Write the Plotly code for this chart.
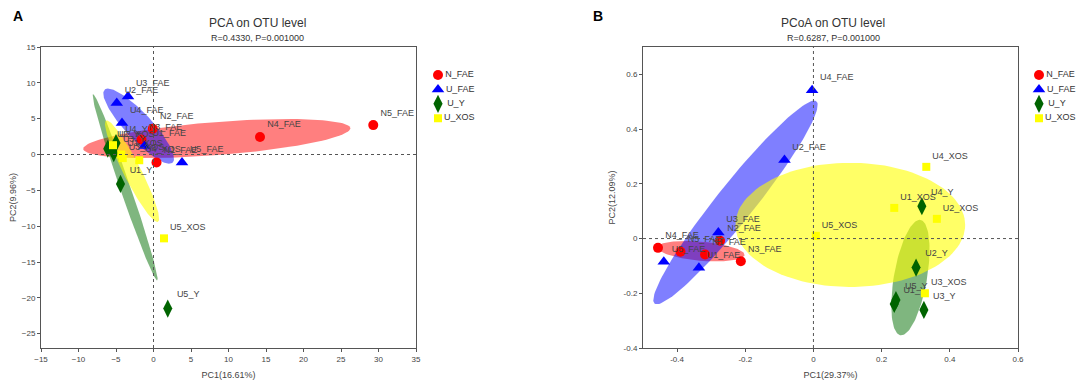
import numpy as np
import plotly.graph_objects as go

# ---------------- data ----------------
groups = ["N_FAE", "U_FAE", "U_Y", "U_XOS"]
colors = {"N_FAE": "#FF0000", "U_FAE": "#0000FF", "U_Y": "#006400", "U_XOS": "#FFFF00"}
fills = {"N_FAE": "rgba(255,0,0,0.5)", "U_FAE": "rgba(0,0,255,0.5)",
         "U_Y": "rgba(0,110,0,0.5)", "U_XOS": "rgba(255,255,0,0.6)"}
symbols = {"N_FAE": "circle", "U_FAE": "triangle-up", "U_Y": "diamond-tall", "U_XOS": "square"}
sizes = {"N_FAE": 10, "U_FAE": 11, "U_Y": 13, "U_XOS": 8}

# PCA (panel A)
pca_labels = {
    "N_FAE": ["N1_FAE", "N2_FAE", "N3_FAE", "N4_FAE", "N5_FAE"],
    "U_FAE": ["U1_FAE", "U2_FAE", "U3_FAE", "U4_FAE", "U5_FAE"],
    "U_Y": ["U1_Y", "U2_Y", "U3_Y", "U4_Y", "U5_Y"],
    "U_XOS": ["U1_XOS", "U2_XOS", "U3_XOS", "U4_XOS", "U5_XOS"],
}
pca_x = {
    "N_FAE": [0.4, -0.1, -1.6, 14.2, 29.3],
    "U_FAE": [-1.2, -4.9, -3.4, -4.2, 3.8],
    "U_Y": [-4.4, -6.1, -5.3, -5.0, 1.9],
    "U_XOS": [-4.3, -5.4, -4.1, -1.9, 1.4],
}
pca_y = {
    "N_FAE": [-1.1, 3.6, 2.1, 2.45, 4.1],
    "U_FAE": [1.2, 7.2, 8.1, 4.4, -1.1],
    "U_Y": [-4.1, 0.8, 0.2, 1.6, -21.5],
    "U_XOS": [0.0, 1.3, -0.5, -0.8, -11.7],
}

# PCoA (panel B)
pcoa_x = {
    "N_FAE": [-0.318, -0.274, -0.213, -0.456, -0.390],
    "U_FAE": [-0.336, -0.085, -0.279, -0.004, -0.439],
    "U_Y": [0.237, 0.301, 0.324, 0.318, 0.242],
    "U_XOS": [0.237, 0.362, 0.327, 0.331, 0.007],
}
pcoa_y = {
    "N_FAE": [-0.058, -0.008, -0.083, -0.034, -0.048],
    "U_FAE": [-0.107, 0.287, 0.022, 0.542, -0.085],
    "U_Y": [-0.239, -0.106, -0.261, 0.118, -0.225],
    "U_XOS": [0.112, 0.072, -0.200, 0.262, 0.010],
}

# confidence-ellipse scale, and the one ellipse of panel B
ELL_K = 1.34
pcoa_xos_ellipse_center = [0.108, 0.05]
pcoa_xos_ellipse_radii = [0.337, 0.227]

fig = go.Figure()

LFONT = "Liberation Sans, Arial, sans-serif"


def ellipse(xs, ys, n=120):
    xs = np.asarray(xs, float)
    ys = np.asarray(ys, float)
    cov = np.cov(xs, ys)
    vals, vecs = np.linalg.eigh(cov)
    t = np.linspace(0, 2 * np.pi, n)
    circ = np.vstack([np.cos(t), np.sin(t)]) * (ELL_K * np.sqrt(np.maximum(vals, 0)))[:, None]
    pts = vecs @ circ
    return xs.mean() + pts[0], ys.mean() + pts[1]


def fixed_ellipse(center, radii, n=120):
    t = np.linspace(0, 2 * np.pi, n)
    return center[0] + radii[0] * np.cos(t), center[1] + radii[1] * np.sin(t)


def add_panel(xd, yd, xa, ya, overrides):
    for g in groups:
        if g in overrides:
            ex, ey = fixed_ellipse(*overrides[g])
        else:
            ex, ey = ellipse(xd[g], yd[g])
        fig.add_trace(go.Scatter(x=ex, y=ey, xaxis=xa, yaxis=ya, mode="lines",
                                 fill="toself", fillcolor=fills[g], line=dict(width=0),
                                 hoverinfo="skip", showlegend=False))
    for g in groups:
        fig.add_trace(go.Scatter(x=xd[g], y=yd[g], xaxis=xa, yaxis=ya, mode="markers+text",
                                 text=pca_labels[g], textposition="top right",
                                 textfont=dict(size=9, color="#444", family=LFONT),
                                 marker=dict(symbol=symbols[g], size=sizes[g], color=colors[g],
                                             line=dict(width=0)),
                                 name=g, showlegend=False))


add_panel(pca_x, pca_y, "x", "y", {})
add_panel(pcoa_x, pcoa_y, "x2", "y2",
          {"U_XOS": (pcoa_xos_ellipse_center, pcoa_xos_ellipse_radii)})

# manual legends
for xa, ya in (("x3", "y3"), ("x4", "y4")):
    for i, g in enumerate(groups):
        fig.add_trace(go.Scatter(x=[8], y=[i], xaxis=xa, yaxis=ya, mode="markers+text",
                                 text=[g], textposition="middle right",
                                 textfont=dict(size=9, color="#333", family=LFONT),
                                 marker=dict(symbol=symbols[g], size=sizes[g], color=colors[g]),
                                 showlegend=False, hoverinfo="skip"))

# page body has an 8px margin; the figure is sized to fill the rest of the window
OFF = 8
W, H = 1084 - OFF, 389 - OFF
def px(v):
    return (v - OFF) / W
def py(v):
    return (H - (v - OFF)) / H

axis_common = dict(showline=True, linecolor="#555", linewidth=1, mirror=True, automargin=False,
                   ticks="outside", ticklen=3, tickcolor="#555", showgrid=False, zeroline=False,
                   tickfont=dict(size=8, color="#444", family=LFONT))

fig.update_layout(
    width=W, height=H, margin=dict(l=0, r=0, t=0, b=0, autoexpand=False),
    paper_bgcolor="white", plot_bgcolor="white", showlegend=False,
    xaxis=dict(domain=[px(41), px(416)], range=[-15, 35], tickvals=list(range(-15, 36, 5)),
               anchor="y", title=dict(text="PC1(16.61%)", font=dict(size=9, color="#444", family=LFONT), standoff=9),
               **axis_common),
    yaxis=dict(domain=[py(348), py(47)], range=[-27, 15], tickvals=list(range(-25, 16, 5)),
               anchor="x", title=dict(text="PC2(9.96%)", font=dict(size=9, color="#444", family=LFONT), standoff=8),
               **axis_common),
    xaxis2=dict(domain=[px(643), px(1018)], range=[-0.5, 0.6],
                tickvals=[-0.4, -0.2, 0, 0.2, 0.4, 0.6], ticktext=["-0.4", "-0.2", "0", "0.2", "0.4", "0.6"],
                anchor="y2", title=dict(text="PC1(29.37%)", font=dict(size=9, color="#444", family=LFONT), standoff=9),
                **axis_common),
    yaxis2=dict(domain=[py(348), py(47)], range=[-0.4, 0.7],
                tickvals=[-0.4, -0.2, 0, 0.2, 0.4, 0.6], ticktext=["-0.4", "-0.2", "0", "0.2", "0.4", "0.6"],
                anchor="x2", title=dict(text="PC2(12.09%)", font=dict(size=9, color="#444", family=LFONT), standoff=6),
                **axis_common),
    xaxis3=dict(domain=[px(430), px(530)], range=[0, 100], visible=False),
    yaxis3=dict(domain=[py(132.6), py(60.6)], range=[4, -1], visible=False, anchor="x3"),
    xaxis4=dict(domain=[px(1031), px(1084)], range=[0, 53], visible=False),
    yaxis4=dict(domain=[py(132.6), py(60.6)], range=[4, -1], visible=False, anchor="x4"),
)

# dotted zero lines
for xr, yr in (("x", "y"), ("x2", "y2")):
    fig.add_shape(type="line", xref=xr, yref=yr + " domain", x0=0, x1=0, y0=0, y1=1,
                  line=dict(color="#555", width=1, dash="dot"))
    fig.add_shape(type="line", xref=xr + " domain", yref=yr, x0=0, x1=1, y0=0, y1=0,
                  line=dict(color="#555", width=1, dash="dot"))

ann = [
    dict(text="<b>A</b>", x=px(11), y=py(16), font=dict(size=14, color="black", family=LFONT)),
    dict(text="<b>B</b>", x=px(591), y=py(16), font=dict(size=14, color="black", family=LFONT)),
    dict(text="PCA on OTU level", x=px(257), y=py(23), font=dict(size=12, color="#333", family=LFONT), xanchor="center"),
    dict(text="R=0.4330, P=0.001000", x=px(257), y=py(38), font=dict(size=9, color="#333", family=LFONT), xanchor="center"),
    dict(text="PCoA on OTU level", x=px(833), y=py(23), font=dict(size=12, color="#333", family=LFONT), xanchor="center"),
    dict(text="R=0.6287, P=0.001000", x=px(833), y=py(38), font=dict(size=9, color="#333", family=LFONT), xanchor="center"),
]
for a in ann:
    a.setdefault("xanchor", "left")
    fig.add_annotation(xref="paper", yref="paper", showarrow=False, yanchor="middle", **a)

fig.write_html("out.html")
